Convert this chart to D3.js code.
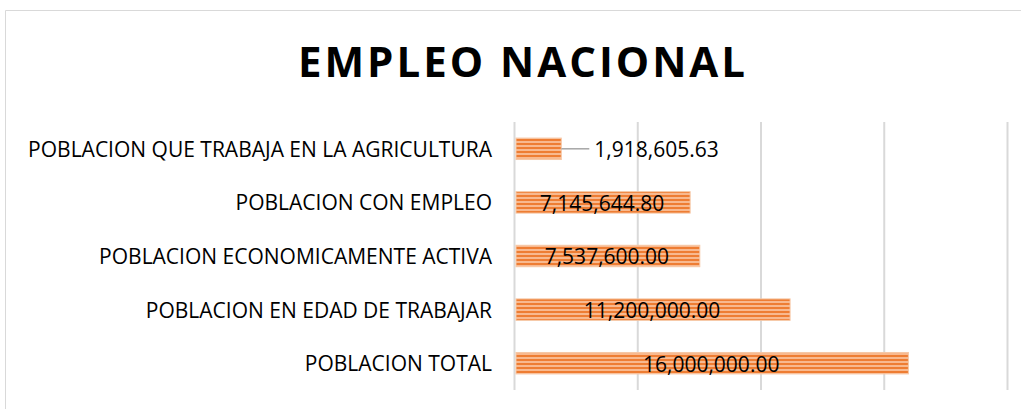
<!DOCTYPE html>
<html>
  <head>
    <meta charset="utf-8">
    <script src="https://d3js.org/d3.v7.min.js"></script>
    <style>
      html, body { margin: 0; background: #fff; overflow: hidden; }
      svg { display: block; }
      .tick line { stroke: #d9d9d9; stroke-width: 2; }
      .cat text { fill: #000; font-size: 21px; font-family: "Open Sans", sans-serif; }
      .val { fill: #000; font-size: 21px; font-family: "Open Sans", sans-serif; }
      .title { fill: #000; font-size: 42px; font-weight: bold; font-family: "Open Sans", sans-serif; letter-spacing: 3px; }
    </style>
  </head>
  <body>
    <svg width="1021" height="409"></svg>
    <script>
      // data
      const categories = [
        'POBLACION QUE TRABAJA EN LA AGRICULTURA',
        'POBLACION CON EMPLEO',
        'POBLACION ECONOMICAMENTE ACTIVA',
        'POBLACION EN EDAD DE TRABAJAR',
        'POBLACION TOTAL'
      ];
      const values = [1918605.63, 7145644.80, 7537600.00, 11200000.00, 16000000.00];
      const gridTicks = [0, 5000000, 10000000, 15000000, 20000000];

      const svg = d3.select('svg');
      const margin = { left: 514, right: 14, top: 122, bottom: 20 };
      const innerWidth = 1021 - margin.left - margin.right;
      const innerHeight = 390 - margin.top;

      // chart frame (only top and left edges are visible in the crop)
      svg.append('path')
        .attr('d', 'M5.5,409V10.5H1021')
        .attr('fill', 'none').attr('stroke', '#d9d9d9');

      svg.append('text')
        .attr('class', 'title')
        .attr('x', 523).attr('y', 77)
        .attr('text-anchor', 'middle')
        .text('EMPLEO NACIONAL');

      // stripe pattern for bars
      const defs = svg.append('defs');
      const pat = defs.append('pattern')
        .attr('id', 'stripes')
        .attr('patternUnits', 'userSpaceOnUse')
        .attr('width', 8).attr('height', 4);
      pat.append('rect').attr('width', 8).attr('height', 4).attr('fill', '#f8b98f');
      pat.append('rect').attr('y', 1).attr('width', 8).attr('height', 2).attr('fill', '#ee7d33');

      const g = svg.append('g')
        .attr('transform', `translate(${margin.left},${margin.top})`);

      const xScale = d3.scaleLinear()
        .domain([0, 20000000])
        .range([0, innerWidth]);

      const yScale = d3.scaleBand()
        .domain(categories)
        .range([0, innerHeight])
        .paddingInner(0.6)
        .paddingOuter(0.3);

      const xAxis = d3.axisBottom(xScale)
        .tickValues(gridTicks)
        .tickSize(innerHeight)
        .tickFormat('');
      const xAxisG = g.append('g').call(xAxis);
      xAxisG.select('.domain').remove();
      xAxisG.selectAll('.tick text').remove();
      xAxisG.selectAll('.tick').filter(d => d === 0).select('line')
        .attr('stroke', '#bfbfbf').attr('stroke-width', 3);

      const yAxis = d3.axisLeft(yScale).tickSize(0).tickPadding(22);
      const yAxisG = g.append('g').attr('class', 'cat').call(yAxis);
      yAxisG.select('.domain').remove();
      yAxisG.selectAll('.tick text').attr('dy', '0.38em');

      g.selectAll('rect.bar').data(values)
        .enter().append('rect')
          .attr('class', 'bar')
          .attr('x', 2)
          .attr('y', (d, i) => yScale(categories[i]))
          .attr('width', d => xScale(d) - 2)
          .attr('height', yScale.bandwidth())
          .attr('fill', 'url(#stripes)')
          .attr('stroke', '#f6c7a6')
          .attr('stroke-width', 1);

      const fmt = d3.format(',.2f');
      values.forEach((v, i) => {
        const cy = yScale(categories[i]) + yScale.bandwidth() / 2;
        const inside = xScale(v) > 150;
        if (!inside) {
          g.append('line')
            .attr('x1', xScale(v)).attr('x2', xScale(v) + 28)
            .attr('y1', cy).attr('y2', cy)
            .attr('stroke', '#a6a6a6').attr('stroke-width', 1.5);
        }
        g.append('text')
          .attr('class', 'val')
          .attr('x', inside ? xScale(v) / 2 : xScale(v) + 33)
          .attr('y', cy)
          .attr('dy', '0.4em')
          .attr('text-anchor', inside ? 'middle' : 'start')
          .text(fmt(v));
      });
    </script>
  </body>
</html>
